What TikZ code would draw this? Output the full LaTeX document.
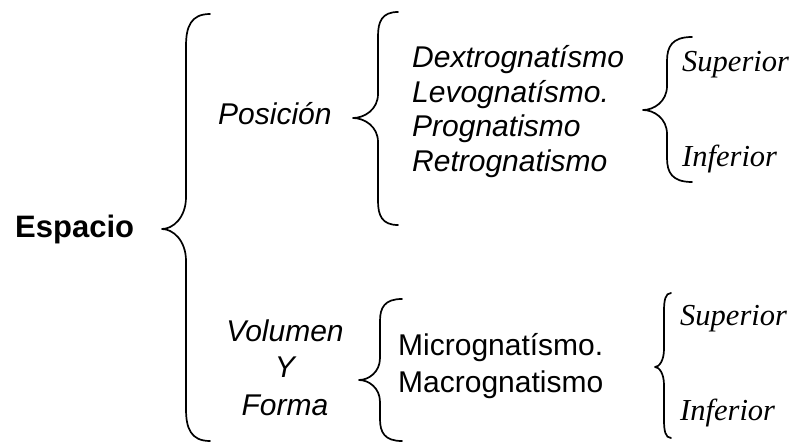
\documentclass[tikz,border=0pt]{standalone}
\usepackage{fontspec}
\setmainfont{Liberation Sans}
\newfontfamily\timesf{Liberation Serif}
\tikzset{
  br/.style={line width=1.7pt, line cap=round, line join=round},
  lbl/.style={anchor=base west, inner sep=0pt, font=\fontsize{30}{36}\selectfont},
  ilbl/.style={lbl, font=\fontsize{30}{36}\selectfont\itshape},
  clbl/.style={anchor=base, inner sep=0pt, font=\fontsize{30}{36}\selectfont\itshape},
  tlbl/.style={anchor=base west, inner sep=0pt, font=\fontsize{30.5}{36}\selectfont\timesf\itshape},
}
% \mybrace{xe}{xv}{xt}{yt}{ym}{yb}{r}
\newcommand\mybrace[7]{%
  \draw[br] (#1,#4) .. controls (#2+0.2*#1-0.2*#2,#4) and (#2,#4+0.4*#7) .. (#2,#4+#7) -- (#2,#5-#7)
    .. controls (#2,#5-0.35*#7) and (#3+0.45*#2-0.45*#3,#5) .. (#3,#5)
    .. controls (#3+0.45*#2-0.45*#3,#5) and (#2,#5+0.35*#7) .. (#2,#5+#7)
    -- (#2,#6-#7) .. controls (#2,#6-0.4*#7) and (#2+0.2*#1-0.2*#2,#6) .. (#1,#6);}
\begin{document}
\begin{tikzpicture}[x=1pt,y=-1pt]
\useasboundingbox (0,0) rectangle (802,443);
% texts
\node[lbl, font=\fontsize{31}{36}\selectfont\bfseries] (esp) at (15,238) {Espacio};
\node[ilbl] (pos) at (218,125) {Posición};
\node[ilbl] (dex) at (412,68) {Dextrognatísmo};
\node[ilbl] (lev) at (412,103) {Levognatísmo.};
\node[ilbl] (pro) at (412,137) {Prognatismo};
\node[ilbl] (ret) at (412,172) {Retrognatismo};
\node[tlbl] (sup1) at (682,72) {Superior};
\node[tlbl] (inf1) at (682,167) {Inferior};
\node[clbl] (vol) at (285,341) {Volumen};
\node[clbl] (y) at (285,377) {Y};
\node[clbl] (for) at (285,415) {Forma};
\node[lbl] (mic) at (398,355) {Micrognatísmo.};
\node[lbl] (mac) at (398,392) {Macrognatismo};
\node[tlbl] (sup2) at (680,325) {Superior};
\node[tlbl] (inf2) at (680,420) {Inferior};
% braces
\mybrace{210}{186}{162}{14}{229}{441}{32}
\mybrace{398}{378}{353}{12}{118}{225}{24}
\mybrace{402}{380}{359}{299}{380}{441}{22}
\mybrace{692}{667}{643}{37}{110}{182}{24}
\mybrace{671}{664}{655}{293}{367}{438}{18}
\end{tikzpicture}
\end{document}
